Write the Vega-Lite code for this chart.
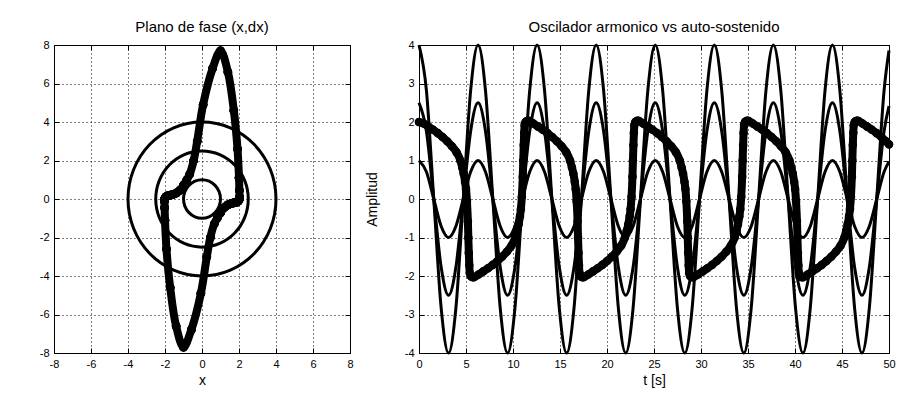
{
  "$schema": "https://vega.github.io/schema/vega-lite/v6.json",
  "background": "white",
  "padding": {"left": 38, "top": 19, "right": 8, "bottom": 5},
  "spacing": 10,
  "config": {
    "font": "Liberation Sans",
    "view": {"stroke": "black", "strokeWidth": 1},
    "axis": {
      "domainColor": "black", "tickColor": "black", "labelColor": "black", "titleColor": "black",
      "gridColor": "black", "gridDash": [1, 3], "gridOpacity": 1, "gridWidth": 1,
      "labelFont": "Liberation Sans", "labelFontSize": 11, "titleFont": "Liberation Sans",
      "titleFontSize": 14, "titleFontWeight": "normal", "tickSize": -5, "labelPadding": 10,
      "labelFlush": false, "labelOverlap": false, "titlePadding": 4,
      "labelExpr": "replace(datum.label, '\u2212', '-')"
    },
    "title": {"font": "Liberation Sans", "fontSize": 15, "fontWeight": "normal", "color": "black", "offset": 0}
  },
  "datasets": {
    "circ": [
      {"i": 0, "x1": 1, "y1": 0, "x25": 2.5, "y25": 0, "x4": 4, "y4": 0},
      {"i": 1, "x1": 0.924, "y1": 0.383, "x25": 2.31, "y25": 0.957, "x4": 3.696, "y4": 1.531},
      {"i": 2, "x1": 0.707, "y1": 0.707, "x25": 1.768, "y25": 1.768, "x4": 2.828, "y4": 2.828},
      {"i": 3, "x1": 0.383, "y1": 0.924, "x25": 0.957, "y25": 2.31, "x4": 1.531, "y4": 3.696},
      {"i": 4, "x1": 0, "y1": 1, "x25": 0, "y25": 2.5, "x4": 0, "y4": 4},
      {"i": 5, "x1": -0.383, "y1": 0.924, "x25": -0.957, "y25": 2.31, "x4": -1.531, "y4": 3.696},
      {"i": 6, "x1": -0.707, "y1": 0.707, "x25": -1.768, "y25": 1.768, "x4": -2.828, "y4": 2.828},
      {"i": 7, "x1": -0.924, "y1": 0.383, "x25": -2.31, "y25": 0.957, "x4": -3.696, "y4": 1.531},
      {"i": 8, "x1": -1, "y1": 0, "x25": -2.5, "y25": 0, "x4": -4, "y4": 0},
      {"i": 9, "x1": -0.924, "y1": -0.383, "x25": -2.31, "y25": -0.957, "x4": -3.696, "y4": -1.531},
      {"i": 10, "x1": -0.707, "y1": -0.707, "x25": -1.768, "y25": -1.768, "x4": -2.828, "y4": -2.828},
      {"i": 11, "x1": -0.383, "y1": -0.924, "x25": -0.957, "y25": -2.31, "x4": -1.531, "y4": -3.696},
      {"i": 12, "x1": 0, "y1": -1, "x25": 0, "y25": -2.5, "x4": 0, "y4": -4},
      {"i": 13, "x1": 0.383, "y1": -0.924, "x25": 0.957, "y25": -2.31, "x4": 1.531, "y4": -3.696},
      {"i": 14, "x1": 0.707, "y1": -0.707, "x25": 1.768, "y25": -1.768, "x4": 2.828, "y4": -2.828},
      {"i": 15, "x1": 0.924, "y1": -0.383, "x25": 2.31, "y25": -0.957, "x4": 3.696, "y4": -1.531}
    ],
    "harm": [
      {"t": 0, "a1": 1, "a25": 2.5, "a4": 4},
      {"t": 0.785, "a1": 0.707, "a25": 1.768, "a4": 2.828},
      {"t": 1.571, "a1": 0, "a25": 0, "a4": 0},
      {"t": 2.356, "a1": -0.707, "a25": -1.768, "a4": -2.828},
      {"t": 3.142, "a1": -1, "a25": -2.5, "a4": -4},
      {"t": 3.927, "a1": -0.707, "a25": -1.768, "a4": -2.828},
      {"t": 4.712, "a1": 0, "a25": 0, "a4": 0},
      {"t": 5.498, "a1": 0.707, "a25": 1.768, "a4": 2.828},
      {"t": 6.283, "a1": 1, "a25": 2.5, "a4": 4},
      {"t": 7.069, "a1": 0.707, "a25": 1.768, "a4": 2.828},
      {"t": 7.854, "a1": 0, "a25": 0, "a4": 0},
      {"t": 8.639, "a1": -0.707, "a25": -1.768, "a4": -2.828},
      {"t": 9.425, "a1": -1, "a25": -2.5, "a4": -4},
      {"t": 10.21, "a1": -0.707, "a25": -1.768, "a4": -2.828},
      {"t": 10.996, "a1": 0, "a25": 0, "a4": 0},
      {"t": 11.781, "a1": 0.707, "a25": 1.768, "a4": 2.828},
      {"t": 12.566, "a1": 1, "a25": 2.5, "a4": 4},
      {"t": 13.352, "a1": 0.707, "a25": 1.768, "a4": 2.828},
      {"t": 14.137, "a1": 0, "a25": 0, "a4": 0},
      {"t": 14.923, "a1": -0.707, "a25": -1.768, "a4": -2.828},
      {"t": 15.708, "a1": -1, "a25": -2.5, "a4": -4},
      {"t": 16.493, "a1": -0.707, "a25": -1.768, "a4": -2.828},
      {"t": 17.279, "a1": 0, "a25": 0, "a4": 0},
      {"t": 18.064, "a1": 0.707, "a25": 1.768, "a4": 2.828},
      {"t": 18.85, "a1": 1, "a25": 2.5, "a4": 4},
      {"t": 19.635, "a1": 0.707, "a25": 1.768, "a4": 2.828},
      {"t": 20.42, "a1": 0, "a25": 0, "a4": 0},
      {"t": 21.206, "a1": -0.707, "a25": -1.768, "a4": -2.828},
      {"t": 21.991, "a1": -1, "a25": -2.5, "a4": -4},
      {"t": 22.777, "a1": -0.707, "a25": -1.768, "a4": -2.828},
      {"t": 23.562, "a1": 0, "a25": 0, "a4": 0},
      {"t": 24.347, "a1": 0.707, "a25": 1.768, "a4": 2.828},
      {"t": 25.133, "a1": 1, "a25": 2.5, "a4": 4},
      {"t": 25.918, "a1": 0.707, "a25": 1.768, "a4": 2.828},
      {"t": 26.704, "a1": 0, "a25": 0, "a4": 0},
      {"t": 27.489, "a1": -0.707, "a25": -1.768, "a4": -2.828},
      {"t": 28.274, "a1": -1, "a25": -2.5, "a4": -4},
      {"t": 29.06, "a1": -0.707, "a25": -1.768, "a4": -2.828},
      {"t": 29.845, "a1": 0, "a25": 0, "a4": 0},
      {"t": 30.631, "a1": 0.707, "a25": 1.768, "a4": 2.828},
      {"t": 31.416, "a1": 1, "a25": 2.5, "a4": 4},
      {"t": 32.201, "a1": 0.707, "a25": 1.768, "a4": 2.828},
      {"t": 32.987, "a1": 0, "a25": 0, "a4": 0},
      {"t": 33.772, "a1": -0.707, "a25": -1.768, "a4": -2.828},
      {"t": 34.558, "a1": -1, "a25": -2.5, "a4": -4},
      {"t": 35.343, "a1": -0.707, "a25": -1.768, "a4": -2.828},
      {"t": 36.128, "a1": 0, "a25": 0, "a4": 0},
      {"t": 36.914, "a1": 0.707, "a25": 1.768, "a4": 2.828},
      {"t": 37.699, "a1": 1, "a25": 2.5, "a4": 4},
      {"t": 38.485, "a1": 0.707, "a25": 1.768, "a4": 2.828},
      {"t": 39.27, "a1": 0, "a25": 0, "a4": 0},
      {"t": 40.055, "a1": -0.707, "a25": -1.768, "a4": -2.828},
      {"t": 40.841, "a1": -1, "a25": -2.5, "a4": -4},
      {"t": 41.626, "a1": -0.707, "a25": -1.768, "a4": -2.828},
      {"t": 42.412, "a1": 0, "a25": 0, "a4": 0},
      {"t": 43.197, "a1": 0.707, "a25": 1.768, "a4": 2.828},
      {"t": 43.982, "a1": 1, "a25": 2.5, "a4": 4},
      {"t": 44.768, "a1": 0.707, "a25": 1.768, "a4": 2.828},
      {"t": 45.553, "a1": 0, "a25": 0, "a4": 0},
      {"t": 46.338, "a1": -0.707, "a25": -1.768, "a4": -2.828},
      {"t": 47.124, "a1": -1, "a25": -2.5, "a4": -4},
      {"t": 47.909, "a1": -0.707, "a25": -1.768, "a4": -2.828},
      {"t": 48.695, "a1": 0, "a25": 0, "a4": 0},
      {"t": 49.48, "a1": 0.707, "a25": 1.768, "a4": 2.828},
      {"t": 50, "a1": 0.965, "a25": 2.412, "a4": 3.859}
    ],
    "vdp": [
      {"t": 0, "x": 2.0, "dx": 0}, {"t": 0.5, "x": 1.96, "dx": -0.12}, {"t": 1, "x": 1.88, "dx": -0.16}, {"t": 1.5, "x": 1.8, "dx": -0.18},
      {"t": 2, "x": 1.71, "dx": -0.2}, {"t": 2.5, "x": 1.61, "dx": -0.22}, {"t": 3, "x": 1.5, "dx": -0.26}, {"t": 3.5, "x": 1.37, "dx": -0.32},
      {"t": 4, "x": 1.21, "dx": -0.44}, {"t": 4.4, "x": 1.0, "dx": -0.72}, {"t": 4.6, "x": 0.82, "dx": -1.0}, {"t": 4.75, "x": 0.66, "dx": -1.3},
      {"t": 4.9, "x": 0.45, "dx": -2.0}, {"t": 5.0, "x": 0.26, "dx": -3.0}, {"t": 5.1, "x": -0.06, "dx": -4.9}, {"t": 5.2, "x": -0.58, "dx": -6.8},
      {"t": 5.25, "x": -1.0, "dx": -7.7}, {"t": 5.3, "x": -1.4, "dx": -6.6}, {"t": 5.35, "x": -1.72, "dx": -4.6}, {"t": 5.4, "x": -1.92, "dx": -2.6},
      {"t": 5.5, "x": -2.0, "dx": -1.1}, {"t": 5.6, "x": -2.02, "dx": -0.45}, {"t": 5.72, "x": -2.03, "dx": -0.12},

      {"t": 5.84, "x": -2.03, "dx": 0}, {"t": 6.34, "x": -1.96, "dx": 0.12}, {"t": 6.84, "x": -1.88, "dx": 0.16}, {"t": 7.34, "x": -1.8, "dx": 0.18},
      {"t": 7.84, "x": -1.71, "dx": 0.2}, {"t": 8.34, "x": -1.61, "dx": 0.22}, {"t": 8.84, "x": -1.5, "dx": 0.26}, {"t": 9.34, "x": -1.37, "dx": 0.32},
      {"t": 9.84, "x": -1.21, "dx": 0.44}, {"t": 10.24, "x": -1.0, "dx": 0.72}, {"t": 10.44, "x": -0.82, "dx": 1.0}, {"t": 10.59, "x": -0.66, "dx": 1.3},
      {"t": 10.74, "x": -0.45, "dx": 2.0}, {"t": 10.84, "x": -0.26, "dx": 3.0}, {"t": 10.94, "x": 0.06, "dx": 4.9}, {"t": 11.04, "x": 0.58, "dx": 6.8},
      {"t": 11.09, "x": 1.0, "dx": 7.7}, {"t": 11.14, "x": 1.4, "dx": 6.6}, {"t": 11.19, "x": 1.72, "dx": 4.6}, {"t": 11.24, "x": 1.92, "dx": 2.6},
      {"t": 11.34, "x": 2.0, "dx": 1.1}, {"t": 11.44, "x": 2.02, "dx": 0.45}, {"t": 11.56, "x": 2.03, "dx": 0.12},

      {"t": 11.67, "x": 2.03, "dx": 0}, {"t": 12.17, "x": 1.96, "dx": -0.12}, {"t": 12.67, "x": 1.88, "dx": -0.16}, {"t": 13.17, "x": 1.8, "dx": -0.18},
      {"t": 13.67, "x": 1.71, "dx": -0.2}, {"t": 14.17, "x": 1.61, "dx": -0.22}, {"t": 14.67, "x": 1.5, "dx": -0.26}, {"t": 15.17, "x": 1.37, "dx": -0.32},
      {"t": 15.67, "x": 1.21, "dx": -0.44}, {"t": 16.07, "x": 1.0, "dx": -0.72}, {"t": 16.27, "x": 0.82, "dx": -1.0}, {"t": 16.42, "x": 0.66, "dx": -1.3},
      {"t": 16.57, "x": 0.45, "dx": -2.0}, {"t": 16.67, "x": 0.26, "dx": -3.0}, {"t": 16.77, "x": -0.06, "dx": -4.9}, {"t": 16.87, "x": -0.58, "dx": -6.8},
      {"t": 16.92, "x": -1.0, "dx": -7.7}, {"t": 16.97, "x": -1.4, "dx": -6.6}, {"t": 17.02, "x": -1.72, "dx": -4.6}, {"t": 17.07, "x": -1.92, "dx": -2.6},
      {"t": 17.17, "x": -2.0, "dx": -1.1}, {"t": 17.27, "x": -2.02, "dx": -0.45}, {"t": 17.39, "x": -2.03, "dx": -0.12},

      {"t": 17.51, "x": -2.03, "dx": 0}, {"t": 18.01, "x": -1.96, "dx": 0.12}, {"t": 18.51, "x": -1.88, "dx": 0.16}, {"t": 19.01, "x": -1.8, "dx": 0.18},
      {"t": 19.51, "x": -1.71, "dx": 0.2}, {"t": 20.01, "x": -1.61, "dx": 0.22}, {"t": 20.51, "x": -1.5, "dx": 0.26}, {"t": 21.01, "x": -1.37, "dx": 0.32},
      {"t": 21.51, "x": -1.21, "dx": 0.44}, {"t": 21.91, "x": -1.0, "dx": 0.72}, {"t": 22.11, "x": -0.82, "dx": 1.0}, {"t": 22.26, "x": -0.66, "dx": 1.3},
      {"t": 22.41, "x": -0.45, "dx": 2.0}, {"t": 22.51, "x": -0.26, "dx": 3.0}, {"t": 22.61, "x": 0.06, "dx": 4.9}, {"t": 22.71, "x": 0.58, "dx": 6.8},
      {"t": 22.76, "x": 1.0, "dx": 7.7}, {"t": 22.81, "x": 1.4, "dx": 6.6}, {"t": 22.86, "x": 1.72, "dx": 4.6}, {"t": 22.91, "x": 1.92, "dx": 2.6},
      {"t": 23.01, "x": 2.0, "dx": 1.1}, {"t": 23.11, "x": 2.02, "dx": 0.45}, {"t": 23.23, "x": 2.03, "dx": 0.12},

      {"t": 23.34, "x": 2.03, "dx": 0}, {"t": 23.84, "x": 1.96, "dx": -0.12}, {"t": 24.34, "x": 1.88, "dx": -0.16}, {"t": 24.84, "x": 1.8, "dx": -0.18},
      {"t": 25.34, "x": 1.71, "dx": -0.2}, {"t": 25.84, "x": 1.61, "dx": -0.22}, {"t": 26.34, "x": 1.5, "dx": -0.26}, {"t": 26.84, "x": 1.37, "dx": -0.32},
      {"t": 27.34, "x": 1.21, "dx": -0.44}, {"t": 27.74, "x": 1.0, "dx": -0.72}, {"t": 27.94, "x": 0.82, "dx": -1.0}, {"t": 28.09, "x": 0.66, "dx": -1.3},
      {"t": 28.24, "x": 0.45, "dx": -2.0}, {"t": 28.34, "x": 0.26, "dx": -3.0}, {"t": 28.44, "x": -0.06, "dx": -4.9}, {"t": 28.54, "x": -0.58, "dx": -6.8},
      {"t": 28.59, "x": -1.0, "dx": -7.7}, {"t": 28.64, "x": -1.4, "dx": -6.6}, {"t": 28.69, "x": -1.72, "dx": -4.6}, {"t": 28.74, "x": -1.92, "dx": -2.6},
      {"t": 28.84, "x": -2.0, "dx": -1.1}, {"t": 28.94, "x": -2.02, "dx": -0.45}, {"t": 29.06, "x": -2.03, "dx": -0.12},

      {"t": 29.18, "x": -2.03, "dx": 0}, {"t": 29.68, "x": -1.96, "dx": 0.12}, {"t": 30.18, "x": -1.88, "dx": 0.16}, {"t": 30.68, "x": -1.8, "dx": 0.18},
      {"t": 31.18, "x": -1.71, "dx": 0.2}, {"t": 31.68, "x": -1.61, "dx": 0.22}, {"t": 32.18, "x": -1.5, "dx": 0.26}, {"t": 32.68, "x": -1.37, "dx": 0.32},
      {"t": 33.18, "x": -1.21, "dx": 0.44}, {"t": 33.58, "x": -1.0, "dx": 0.72}, {"t": 33.78, "x": -0.82, "dx": 1.0}, {"t": 33.93, "x": -0.66, "dx": 1.3},
      {"t": 34.08, "x": -0.45, "dx": 2.0}, {"t": 34.18, "x": -0.26, "dx": 3.0}, {"t": 34.28, "x": 0.06, "dx": 4.9}, {"t": 34.38, "x": 0.58, "dx": 6.8},
      {"t": 34.43, "x": 1.0, "dx": 7.7}, {"t": 34.48, "x": 1.4, "dx": 6.6}, {"t": 34.53, "x": 1.72, "dx": 4.6}, {"t": 34.58, "x": 1.92, "dx": 2.6},
      {"t": 34.68, "x": 2.0, "dx": 1.1}, {"t": 34.78, "x": 2.02, "dx": 0.45}, {"t": 34.9, "x": 2.03, "dx": 0.12},

      {"t": 35.01, "x": 2.03, "dx": 0}, {"t": 35.51, "x": 1.96, "dx": -0.12}, {"t": 36.01, "x": 1.88, "dx": -0.16}, {"t": 36.51, "x": 1.8, "dx": -0.18},
      {"t": 37.01, "x": 1.71, "dx": -0.2}, {"t": 37.51, "x": 1.61, "dx": -0.22}, {"t": 38.01, "x": 1.5, "dx": -0.26}, {"t": 38.51, "x": 1.37, "dx": -0.32},
      {"t": 39.01, "x": 1.21, "dx": -0.44}, {"t": 39.41, "x": 1.0, "dx": -0.72}, {"t": 39.61, "x": 0.82, "dx": -1.0}, {"t": 39.76, "x": 0.66, "dx": -1.3},
      {"t": 39.91, "x": 0.45, "dx": -2.0}, {"t": 40.01, "x": 0.26, "dx": -3.0}, {"t": 40.11, "x": -0.06, "dx": -4.9}, {"t": 40.21, "x": -0.58, "dx": -6.8},
      {"t": 40.26, "x": -1.0, "dx": -7.7}, {"t": 40.31, "x": -1.4, "dx": -6.6}, {"t": 40.36, "x": -1.72, "dx": -4.6}, {"t": 40.41, "x": -1.92, "dx": -2.6},
      {"t": 40.51, "x": -2.0, "dx": -1.1}, {"t": 40.61, "x": -2.02, "dx": -0.45}, {"t": 40.73, "x": -2.03, "dx": -0.12},

      {"t": 40.85, "x": -2.03, "dx": 0}, {"t": 41.35, "x": -1.96, "dx": 0.12}, {"t": 41.85, "x": -1.88, "dx": 0.16}, {"t": 42.35, "x": -1.8, "dx": 0.18},
      {"t": 42.85, "x": -1.71, "dx": 0.2}, {"t": 43.35, "x": -1.61, "dx": 0.22}, {"t": 43.85, "x": -1.5, "dx": 0.26}, {"t": 44.35, "x": -1.37, "dx": 0.32},
      {"t": 44.85, "x": -1.21, "dx": 0.44}, {"t": 45.25, "x": -1.0, "dx": 0.72}, {"t": 45.45, "x": -0.82, "dx": 1.0}, {"t": 45.6, "x": -0.66, "dx": 1.3},
      {"t": 45.75, "x": -0.45, "dx": 2.0}, {"t": 45.85, "x": -0.26, "dx": 3.0}, {"t": 45.95, "x": 0.06, "dx": 4.9}, {"t": 46.05, "x": 0.58, "dx": 6.8},
      {"t": 46.1, "x": 1.0, "dx": 7.7}, {"t": 46.15, "x": 1.4, "dx": 6.6}, {"t": 46.2, "x": 1.72, "dx": 4.6}, {"t": 46.25, "x": 1.92, "dx": 2.6},
      {"t": 46.35, "x": 2.0, "dx": 1.1}, {"t": 46.45, "x": 2.02, "dx": 0.45}, {"t": 46.57, "x": 2.03, "dx": 0.12},

      {"t": 46.68, "x": 2.03, "dx": 0}, {"t": 47.18, "x": 1.96, "dx": -0.12}, {"t": 47.68, "x": 1.88, "dx": -0.16}, {"t": 48.18, "x": 1.8, "dx": -0.18},
      {"t": 48.68, "x": 1.71, "dx": -0.2}, {"t": 49.18, "x": 1.61, "dx": -0.22}, {"t": 49.68, "x": 1.5, "dx": -0.26}, {"t": 50, "x": 1.42, "dx": -0.29}
    ]
  },
  "hconcat": [
    {
      "width": 296,
      "height": 308,
      "title": {"text": "Plano de fase (x,dx)"},
      "resolve": {"axis": {"x": "independent", "y": "independent"}},
      "layer": [
        {
          "data": {"name": "circ"},
          "mark": {"type": "line", "interpolate": "cardinal-closed", "stroke": "black", "strokeWidth": 3},
          "encoding": {
            "x": {"field": "x1", "type": "quantitative", "scale": {"domain": [-8, 8], "nice": false},
                  "axis": {"title": "x", "values": [-8, -6, -4, -2, 0, 2, 4, 6, 8], "grid": true}},
            "y": {"field": "y1", "type": "quantitative", "scale": {"domain": [-8, 8], "nice": false},
                  "axis": {"title": null, "values": [-8, -6, -4, -2, 0, 2, 4, 6, 8], "grid": true}},
            "order": {"field": "i", "type": "quantitative"}
          }
        },
        {
          "data": {"name": "circ"},
          "mark": {"type": "line", "interpolate": "cardinal-closed", "stroke": "black", "strokeWidth": 3},
          "encoding": {
            "x": {"field": "x25", "type": "quantitative",
                  "axis": {"orient": "top", "title": null, "labels": false, "grid": false, "values": [-8, -6, -4, -2, 0, 2, 4, 6, 8]}},
            "y": {"field": "y25", "type": "quantitative",
                  "axis": {"orient": "right", "title": null, "labels": false, "grid": false, "values": [-8, -6, -4, -2, 0, 2, 4, 6, 8]}},
            "order": {"field": "i", "type": "quantitative"}
          }
        },
        {
          "data": {"name": "circ"},
          "mark": {"type": "line", "interpolate": "cardinal-closed", "stroke": "black", "strokeWidth": 3},
          "encoding": {
            "x": {"field": "x4", "type": "quantitative", "axis": null},
            "y": {"field": "y4", "type": "quantitative", "axis": null},
            "order": {"field": "i", "type": "quantitative"}
          }
        },
        {
          "data": {"name": "vdp"},
          "mark": {"type": "line", "interpolate": "catmull-rom", "stroke": "black", "strokeWidth": 8, "strokeJoin": "round", "strokeCap": "round"},
          "encoding": {
            "x": {"field": "x", "type": "quantitative", "axis": null},
            "y": {"field": "dx", "type": "quantitative", "axis": null},
            "order": {"field": "t", "type": "quantitative"}
          }
        },
        {
          "data": {"name": "vdp"},
          "mark": {"type": "point", "shape": "circle", "filled": false, "stroke": "black", "strokeWidth": 1.2, "size": 55, "opacity": 1},
          "encoding": {
            "x": {"field": "x", "type": "quantitative", "axis": null},
            "y": {"field": "dx", "type": "quantitative", "axis": null}
          }
        }
      ]
    },
    {
      "width": 470,
      "height": 308,
      "title": {"text": "Oscilador armonico vs auto-sostenido"},
      "resolve": {"axis": {"x": "independent", "y": "independent"}},
      "layer": [
        {
          "data": {"name": "harm"},
          "mark": {"type": "line", "interpolate": "monotone", "stroke": "black", "strokeWidth": 3},
          "encoding": {
            "x": {"field": "t", "type": "quantitative", "scale": {"domain": [0, 50], "nice": false},
                  "axis": {"title": "t [s]", "values": [0, 5, 10, 15, 20, 25, 30, 35, 40, 45, 50], "grid": true}},
            "y": {"field": "a1", "type": "quantitative", "scale": {"domain": [-4, 4], "nice": false},
                  "axis": {"title": "Amplitud", "titlePadding": 25, "values": [-4, -3, -2, -1, 0, 1, 2, 3, 4], "grid": true}}
          }
        },
        {
          "data": {"name": "harm"},
          "mark": {"type": "line", "interpolate": "monotone", "stroke": "black", "strokeWidth": 3},
          "encoding": {
            "x": {"field": "t", "type": "quantitative",
                  "axis": {"orient": "top", "title": null, "labels": false, "grid": false, "values": [0, 5, 10, 15, 20, 25, 30, 35, 40, 45, 50]}},
            "y": {"field": "a25", "type": "quantitative",
                  "axis": {"orient": "right", "title": null, "labels": false, "grid": false, "values": [-4, -3, -2, -1, 0, 1, 2, 3, 4]}}
          }
        },
        {
          "data": {"name": "harm"},
          "mark": {"type": "line", "interpolate": "monotone", "stroke": "black", "strokeWidth": 3},
          "encoding": {
            "x": {"field": "t", "type": "quantitative", "axis": null},
            "y": {"field": "a4", "type": "quantitative", "axis": null}
          }
        },
        {
          "data": {"name": "vdp"},
          "mark": {"type": "line", "interpolate": "monotone", "stroke": "black", "strokeWidth": 8, "strokeJoin": "round", "strokeCap": "round"},
          "encoding": {
            "x": {"field": "t", "type": "quantitative", "axis": null},
            "y": {"field": "x", "type": "quantitative", "axis": null}
          }
        },
        {
          "data": {"name": "vdp"},
          "mark": {"type": "point", "shape": "circle", "filled": false, "stroke": "black", "strokeWidth": 1.2, "size": 55, "opacity": 1},
          "encoding": {
            "x": {"field": "t", "type": "quantitative", "axis": null},
            "y": {"field": "x", "type": "quantitative", "axis": null}
          }
        }
      ]
    }
  ]
}
